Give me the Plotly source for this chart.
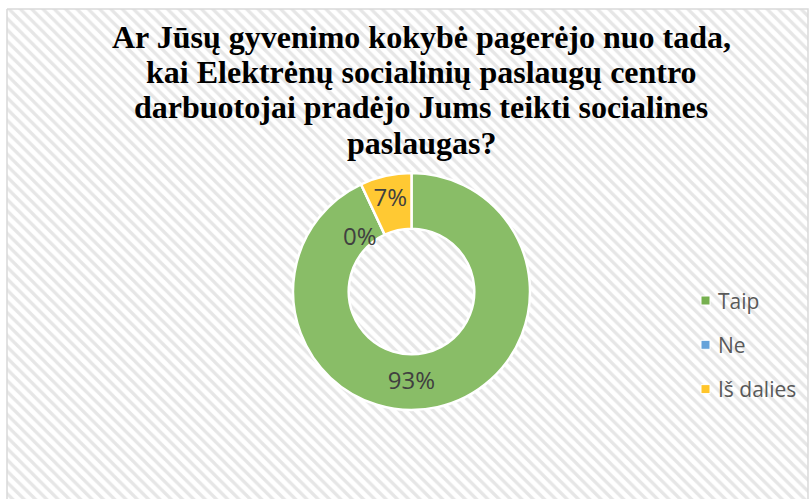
import plotly.graph_objects as go

# ---- data ----
labels = ["Taip", "Ne", "Iš dalies"]
values = [93, 0, 7]
slice_colors = ["#89BD67", "#5B9BD5", "#FFC933"]
legend_colors = ["#76B04F", "#66A3DA", "#FFC52A"]
title_lines = [
    "Ar Jūsų gyvenimo kokybė pagerėjo nuo tada,",
    "kai Elektrėnų socialinių paslaugų centro",
    "darbuotojai pradėjo Jums teikti socialines",
    "paslaugas?",
]

W, H = 811, 499
total = sum(values)
pct_text = [f"{round(v / total * 100)}%" for v in values]

fig = go.Figure()

# hatched chart background (decoration) on a pixel-coordinate overlay axis
fig.add_trace(go.Scatter(
    x=[7, 808, 808, 7, 7], y=[9, 9, 520, 520, 9],
    mode="lines", fill="toself",
    line=dict(color="#D9D9D9", width=1.5),
    fillcolor="white",
    fillpattern=dict(shape="\\", size=8, solidity=0.4,
                     fgcolor="#E6E6E6", bgcolor="white", fillmode="replace"),
    hoverinfo="skip", showlegend=False,
))

# donut
fig.add_trace(go.Pie(
    labels=labels, values=values,
    hole=0.53, sort=False, direction="clockwise", rotation=0,
    marker=dict(colors=slice_colors, line=dict(color="white", width=2.5)),
    text=[pct_text[0], "", pct_text[2]],
    textinfo="text", textposition="inside",
    insidetextorientation="horizontal",
    textfont=dict(family="Open Sans", size=24, color="#404040"),
    domain=dict(x=[293 / W, 530 / W], y=[(H - 410) / H, (H - 173) / H]),
    showlegend=False, hoverinfo="label+percent",
))

# zero-value label placed beside its slice, as in the source
fig.add_annotation(x=360, y=235, xref="x", yref="y", text=pct_text[1],
                   showarrow=False,
                   font=dict(family="Open Sans", size=24, color="#404040"))

# custom legend
for i, (lab, col) in enumerate(zip(labels, legend_colors)):
    yy = 300.5 + i * 44.3
    fig.add_trace(go.Scatter(
        x=[705.5], y=[yy], mode="markers",
        marker=dict(symbol="square", size=9, color=col,
                    line=dict(color="white", width=1)),
        hoverinfo="skip", showlegend=False,
    ))
    fig.add_annotation(x=716, y=yy, xref="x", yref="y", text=lab,
                       showarrow=False, xanchor="left", yanchor="middle",
                       font=dict(family="Open Sans", size=21, color="#595959"))

# title lines
for i, t in enumerate(title_lines):
    fig.add_annotation(x=421, y=37 + i * 35.2, xref="x", yref="y", text=f"<b>{t}</b>",
                       showarrow=False, xanchor="center", yanchor="middle",
                       font=dict(family="Liberation Serif", size=32, color="black"))

fig.update_layout(
    width=W, height=H,
    margin=dict(l=0, r=0, t=0, b=0),
    paper_bgcolor="white", plot_bgcolor="white",
    xaxis=dict(range=[0, W], domain=[0, 1], visible=False, fixedrange=True),
    yaxis=dict(range=[H, 0], domain=[0, 1], visible=False, fixedrange=True),
    uniformtext=dict(minsize=24, mode="show"),
    showlegend=False,
)

fig.write_html("out.html", config={"displayModeBar": False},
               post_script="document.body.style.margin='0';")
